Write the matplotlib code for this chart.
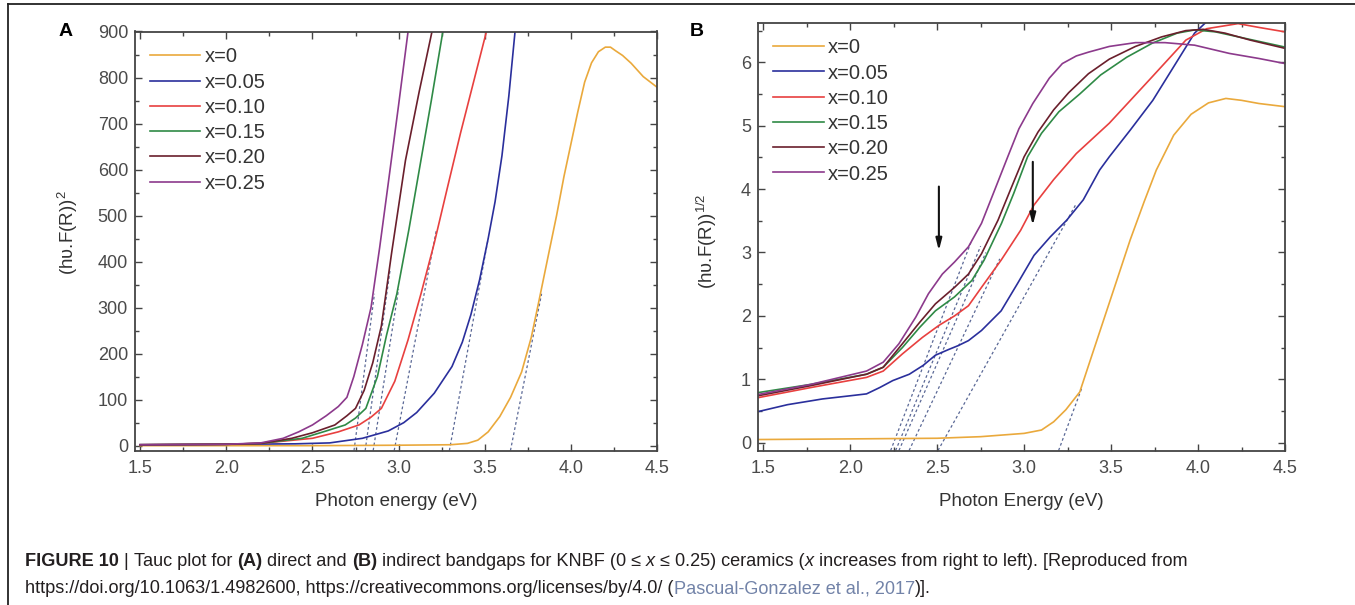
import matplotlib
matplotlib.use("Agg")
import matplotlib.pyplot as plt
from matplotlib.lines import Line2D
from matplotlib.ticker import MultipleLocator, FormatStrFormatter

plt.rcParams['font.family'] = ['Liberation Sans', 'DejaVu Sans']
plt.rcParams['mathtext.fontset'] = 'custom'
plt.rcParams['mathtext.rm'] = 'Liberation Sans'
plt.rcParams['mathtext.it'] = 'Liberation Sans:italic'

# ---- data ----
labels = ["x=0", "x=0.05", "x=0.10", "x=0.15", "x=0.20", "x=0.25"]
colors = ["#eaa93c", "#2a2f9c", "#e8403f", "#2f8a46", "#6a1f2c", "#8c3a8c"]

# panel A : direct gap, (hv.F(R))^2
a_e_000 = [1.5, 2.0, 2.5, 3.0, 3.3, 3.4, 3.46, 3.52, 3.587, 3.65, 3.714, 3.77, 3.815, 3.87,
           3.917, 3.96, 4.0, 4.04, 4.08, 4.12, 4.16, 4.20, 4.23, 4.26, 4.30, 4.35, 4.42, 4.5]
a_v_000 = [0, 0, 0, 1, 2, 5, 12, 30, 63, 105, 160, 235, 315, 415,
           500, 585, 655, 725, 790, 832, 856, 866, 866, 858, 848, 831, 802, 779]
a_e_005 = [1.5, 2.0, 2.4, 2.6, 2.79, 2.94, 3.03, 3.105, 3.207, 3.31, 3.37, 3.42, 3.47,
           3.52, 3.56, 3.60, 3.64, 3.676]
a_v_005 = [2, 3, 4, 6, 16, 32, 50, 72, 114, 172, 225, 285, 360, 450, 530, 630, 760, 900]
a_e_010 = [1.5, 2.0, 2.2, 2.50, 2.65, 2.77, 2.84, 2.90, 2.978, 3.055, 3.13, 3.207, 3.283,
           3.36, 3.435, 3.51]
a_v_010 = [2, 3, 5, 16, 30, 45, 62, 81, 140, 230, 330, 440, 560, 680, 790, 900]
a_e_015 = [1.5, 2.0, 2.2, 2.44, 2.58, 2.69, 2.75, 2.81, 2.877, 2.93, 2.99, 3.06, 3.125,
           3.19, 3.257]
a_v_015 = [2, 3, 5, 16, 32, 45, 60, 81, 150, 240, 330, 470, 610, 750, 900]
a_e_020 = [1.5, 2.0, 2.2, 2.38, 2.50, 2.63, 2.70, 2.75, 2.80, 2.85, 2.90, 2.96, 3.04, 3.12, 3.194]
a_v_020 = [2, 3, 5, 16, 28, 45, 65, 81, 120, 180, 260, 420, 620, 770, 900]
a_e_025 = [1.5, 2.0, 2.2, 2.33, 2.42, 2.50, 2.58, 2.65, 2.70, 2.74, 2.79, 2.84, 2.89, 2.94,
           3.00, 3.055]
a_v_025 = [2, 3, 6, 16, 30, 45, 65, 85, 105, 150, 220, 300, 430, 570, 740, 900]

# tangent (dashed) lines of A: x-intercept and upper end
a_tan_e0 = [3.655, 3.30, 2.98, 2.857, 2.81, 2.745]
a_tan_e1 = [3.83, 3.52, 3.22, 3.00, 2.95, 2.86]
a_tan_v1 = [330, 450, 470, 340, 380, 330]

# panel B : indirect gap, (hv.F(R))^1/2
b_e_000 = [1.47, 2.0, 2.5, 2.75, 3.0, 3.1, 3.17, 3.24, 3.32, 3.39, 3.465, 3.54, 3.61, 3.69,
           3.76, 3.86, 3.96, 4.06, 4.16, 4.25, 4.35, 4.5]
b_v_000 = [0.05, 0.06, 0.07, 0.095, 0.147, 0.2, 0.33, 0.52, 0.80, 1.38, 2.0, 2.62, 3.2, 3.8,
           4.3, 4.85, 5.18, 5.36, 5.43, 5.40, 5.35, 5.30]
b_e_005 = [1.47, 1.64, 1.774, 1.84, 2.0, 2.094, 2.17, 2.245, 2.34, 2.42, 2.49, 2.566, 2.62,
           2.68, 2.755, 2.868, 2.962, 3.057, 3.15, 3.245, 3.34, 3.434, 3.49, 3.61, 3.74,
           3.86, 3.98, 4.08]
b_v_005 = [0.49, 0.60, 0.66, 0.69, 0.74, 0.77, 0.87, 0.98, 1.08, 1.22, 1.38, 1.47, 1.53,
           1.61, 1.77, 2.08, 2.51, 2.955, 3.245, 3.51, 3.83, 4.30, 4.51, 4.93, 5.40,
           5.93, 6.46, 6.72]
b_e_010 = [1.47, 1.774, 2.094, 2.19, 2.30, 2.415, 2.51, 2.60, 2.68, 2.755, 2.868, 2.98,
           3.057, 3.17, 3.30, 3.49, 3.736, 3.93, 4.05, 4.23, 4.35, 4.5]
b_v_010 = [0.71, 0.87, 1.03, 1.13, 1.40, 1.66, 1.85, 2.0, 2.16, 2.45, 2.88, 3.35, 3.75,
           4.15, 4.56, 5.04, 5.77, 6.35, 6.53, 6.61, 6.55, 6.48]
b_e_015 = [1.47, 1.774, 2.094, 2.19, 2.30, 2.40, 2.49, 2.60, 2.70, 2.77, 2.87, 2.94, 3.02,
           3.10, 3.20, 3.32, 3.44, 3.59, 3.736, 3.88, 3.98, 4.1, 4.3, 4.5]
b_v_015 = [0.79, 0.92, 1.08, 1.19, 1.50, 1.82, 2.08, 2.30, 2.56, 2.88, 3.46, 3.93, 4.51,
           4.88, 5.22, 5.50, 5.80, 6.08, 6.30, 6.46, 6.51, 6.48, 6.36, 6.24]
b_e_020 = [1.47, 1.774, 2.094, 2.19, 2.30, 2.40, 2.49, 2.60, 2.68, 2.755, 2.85, 2.92, 3.0,
           3.08, 3.17, 3.256, 3.37, 3.49, 3.64, 3.79, 3.93, 4.03, 4.155, 4.30, 4.5]
b_v_020 = [0.74, 0.90, 1.08, 1.19, 1.56, 1.90, 2.19, 2.45, 2.66, 2.98, 3.51, 3.98, 4.51,
           4.90, 5.25, 5.52, 5.82, 6.05, 6.25, 6.40, 6.50, 6.52, 6.46, 6.35, 6.22]
b_e_025 = [1.47, 1.774, 2.094, 2.19, 2.28, 2.377, 2.45, 2.53, 2.60, 2.68, 2.755, 2.83,
           2.906, 2.97, 3.05, 3.145, 3.22, 3.30, 3.37, 3.49, 3.64, 3.81, 3.98, 4.18,
           4.35, 4.5]
b_v_025 = [0.76, 0.92, 1.13, 1.27, 1.56, 1.98, 2.35, 2.66, 2.85, 3.09, 3.46, 3.98, 4.51,
           4.95, 5.35, 5.75, 5.98, 6.10, 6.16, 6.25, 6.31, 6.31, 6.27, 6.14, 6.06, 5.98]

b_tan_e0 = [3.215, 2.53, 2.36, 2.30, 2.28, 2.25]
b_tan_e1 = [3.33, 3.30, 2.86, 2.78, 2.75, 2.70]
b_tan_v1 = [0.85, 3.77, 2.9, 3.0, 3.1, 3.2]

# the two arrows in B
arrow_e = [2.51, 3.05]
arrow_top = [4.04, 4.43]
arrow_bot = [3.03, 3.43]

caption_1 = [("FIGURE 10", "bold", "normal"), (" | ", "normal", "normal"),
             ("Tauc plot for ", "normal", "normal"), ("(A)", "bold", "normal"),
             (" direct and ", "normal", "normal"), ("(B)", "bold", "normal"),
             (" indirect bandgaps for KNBF (0 \u2264 ", "normal", "normal"),
             ("x", "normal", "italic"), (" \u2264 0.25) ceramics (", "normal", "normal"),
             ("x", "normal", "italic"),
             (" increases from right to left). [Reproduced from", "normal", "normal")]
caption_2 = ["https://doi.org/10.1063/1.4982600, https://creativecommons.org/licenses/by/4.0/ (",
             "Pascual-Gonzalez et al., 2017", ")]."]

a_curves = [(a_e_000, a_v_000), (a_e_005, a_v_005), (a_e_010, a_v_010),
            (a_e_015, a_v_015), (a_e_020, a_v_020), (a_e_025, a_v_025)]
b_curves = [(b_e_000, b_v_000), (b_e_005, b_v_005), (b_e_010, b_v_010),
            (b_e_015, b_v_015), (b_e_020, b_v_020), (b_e_025, b_v_025)]

W, H = 1355, 605
fig = plt.figure(figsize=(W / 100, H / 100), dpi=100)
TXT = "#333333"
GREY = "#4a4a4a"


def style_axes(ax, ymajor, yminor):
    ax.set_xlim(1.47, 4.5)
    ax.xaxis.set_major_locator(MultipleLocator(0.5))
    ax.xaxis.set_minor_locator(MultipleLocator(0.25))
    ax.xaxis.set_major_formatter(FormatStrFormatter("%.1f"))
    ax.yaxis.set_major_locator(MultipleLocator(ymajor))
    ax.yaxis.set_minor_locator(MultipleLocator(yminor))
    ax.tick_params(which="both", direction="in", top=True, right=True,
                   colors="#444444", labelcolor=GREY, labelsize=13, width=1.0)
    ax.tick_params(which="major", length=5)
    ax.tick_params(which="minor", length=3)
    ax.tick_params(axis="x", pad=7)
    ax.tick_params(axis="y", pad=5)
    for s in ax.spines.values():
        s.set_color("#444444")
        s.set_linewidth(1.3)


def draw_tangents(ax, e0s, e1s, v1s, ybot):
    for e0, e1, v1 in zip(e0s, e1s, v1s):
        slope = v1 / (e1 - e0)
        ax.plot([e0 + ybot / slope, e1], [ybot, v1], ls=(0, (2.2, 2.0)),
                color="#5a6896", lw=0.9, zorder=1.5)


def add_legend(ax, lines, yoff):
    ax.legend(lines, labels, loc="upper left", bbox_to_anchor=(0.029, yoff),
              frameon=False, borderaxespad=0, borderpad=0, handlelength=2.5,
              handletextpad=0.2, labelspacing=0.31, fontsize=14.5, labelcolor=TXT)


# ---- panel A ----
axA = fig.add_axes([135 / W, 1 - 450.5 / H, 522 / W, 419 / H])
style_axes(axA, 100, 50)
axA.set_ylim(-10.5, 900)
linesA = []
for (e, v), c, lab in zip(a_curves, colors, labels):
    ln, = axA.plot(e, v, color=c, lw=1.2, zorder=2)
    linesA.append(ln)
draw_tangents(axA, a_tan_e0, a_tan_e1, a_tan_v1, -10.5)
add_legend(axA, linesA, 1 - 16 / 419)
axA.set_xlabel("Photon energy (eV)", fontsize=13.5, color=TXT)
axA.xaxis.set_label_coords(0.5, -0.101)
axA.set_ylabel("(h\u028b.F(R))$^{2}$", fontsize=13.5, color=TXT)
axA.yaxis.set_label_coords(-0.105, 0.52)

# ---- panel B ----
axB = fig.add_axes([758 / W, 1 - 450.5 / H, 527 / W, 427.2 / H])
style_axes(axB, 1, 0.5)
axB.set_ylim(-0.123, 6.615)
linesB = []
for (e, v), c in zip(b_curves, colors):
    ln, = axB.plot(e, v, color=c, lw=1.2, zorder=2)
    linesB.append(ln)
draw_tangents(axB, b_tan_e0, b_tan_e1, b_tan_v1, -0.123)
for e, yt, yb in zip(arrow_e, arrow_top, arrow_bot):
    axB.annotate("", xy=(e, yb), xytext=(e, yt),
                 arrowprops=dict(arrowstyle="-|>,head_length=0.7,head_width=0.18",
                                 color="#111111", lw=1.5, shrinkA=0, shrinkB=0))
add_legend(axB, linesB, 1 - 15 / 427.2)
axB.set_xlabel("Photon Energy (eV)", fontsize=13.5, color=TXT)
axB.xaxis.set_label_coords(0.5, -0.0995)
axB.set_ylabel("(h\u028b.F(R))$^{1/2}$", fontsize=13.5, color=TXT)
axB.yaxis.set_label_coords(-0.074, 0.49)

fig.text(66 / W, 1 - 32 / H, "A", fontsize=14, fontweight="bold", ha="center", va="center")
fig.text(697 / W, 1 - 32 / H, "B", fontsize=14, fontweight="bold", ha="center", va="center")

# frame lines of the figure box
fig.add_artist(Line2D([8 / W, 1], [1 - 4 / H, 1 - 4 / H], transform=fig.transFigure,
                      color="#222222", lw=1.3))
fig.add_artist(Line2D([8 / W, 8 / W], [0, 1 - 4 / H], transform=fig.transFigure,
                      color="#222222", lw=1.3))

# ---- caption ----
cap = fig.add_axes([0, 0, 1, 1])
cap.axis("off")
cap_col = "#231f20"
size = 12
pieces = []
prev = None
for txt, wt, st in caption_1:
    if prev is None:
        t = cap.annotate(txt, xy=(25, H - 566), xycoords="figure pixels", va="baseline",
                         fontsize=size, fontweight=wt, fontstyle=st, color=cap_col)
    else:
        t = cap.annotate(txt, xy=(1, 0), xycoords=prev, va="bottom",
                         fontsize=size, fontweight=wt, fontstyle=st, color=cap_col)
    pieces.append(t)
    prev = t
line1 = list(pieces)
prev = None
for i, txt in enumerate(caption_2):
    col = "#7283a8" if i == 1 else cap_col
    if prev is None:
        t = cap.annotate(txt, xy=(25, H - 593), xycoords="figure pixels", va="baseline",
                         fontsize=size, color=col)
    else:
        t = cap.annotate(txt, xy=(1, 0), xycoords=prev, va="bottom", fontsize=size, color=col)
    pieces.append(t)
    prev = t

# fit the first caption line to its width in the reference
fig.canvas.draw()
r = fig.canvas.get_renderer()
w = line1[-1].get_window_extent(r).x1 - line1[0].get_window_extent(r).x0
for t in pieces:
    t.set_fontsize(size * 1172 / w)

fig.savefig("out.png", dpi=100, facecolor="white")
